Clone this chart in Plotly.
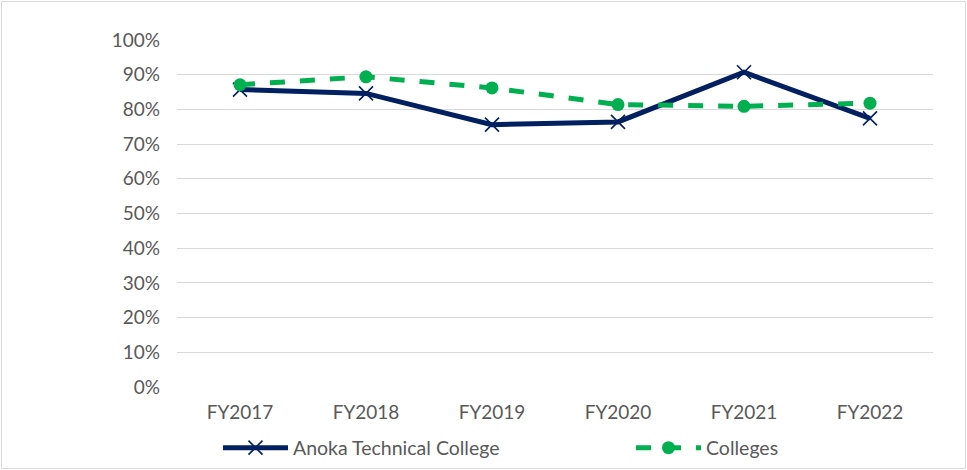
import plotly.graph_objects as go

years = ["FY2017", "FY2018", "FY2019", "FY2020", "FY2021", "FY2022"]
anoka = [0.857, 0.846, 0.756, 0.764, 0.907, 0.774]
colleges = [0.871, 0.894, 0.862, 0.814, 0.809, 0.818]
y_ticks = [0, 0.1, 0.2, 0.3, 0.4, 0.5, 0.6, 0.7, 0.8, 0.9, 1.0]

W, H = 967, 470
L, R, T, B = 177, 34, 40, 83
pw, ph = W - L - R, H - T - B

fig = go.Figure()
fig.add_trace(go.Scatter(
    x=years, y=anoka, name="Anoka Technical College", mode="lines+markers",
    line=dict(color="#002060", width=5),
    marker=dict(symbol="x-thin", size=14, line=dict(color="#002060", width=1.6), color="#002060"),
    legend="legend",
))
fig.add_trace(go.Scatter(
    x=years, y=colleges, name="Colleges", mode="lines+markers",
    line=dict(color="#00B050", width=5, dash="dash"),
    marker=dict(symbol="circle", size=13, color="#00B050"),
    legend="legend2",
))

leg_common = dict(orientation="h", xref="container", yref="container",
                  xanchor="left", y=1 - 448 / H, yanchor="middle",
                  itemwidth=65, font=dict(size=19.5, color="#595959"),
                  bgcolor="rgba(0,0,0,0)")

fig.update_layout(
    width=W, height=H,
    margin=dict(l=L, r=R, t=T, b=B, autoexpand=False),
    paper_bgcolor="white", plot_bgcolor="white",
    font=dict(family="Lato, Open Sans, sans-serif", size=19, color="#595959"),
    xaxis=dict(showgrid=False, showline=False, ticks="", zeroline=False,
               ticklabelstandoff=12,
               tickfont=dict(size=19, color="#595959")),
    yaxis=dict(range=[0, 1.0], tickvals=y_ticks, tickformat=".0%",
               showgrid=True, gridcolor="#d9d9d9", gridwidth=1.2,
               zeroline=False, showline=False, ticks="", ticklen=0,
               ticklabelstandoff=16,
               tickfont=dict(size=19, color="#595959")),
    legend=dict(leg_common, x=218 / W),
    legend2=dict(leg_common, x=631 / W),
    showlegend=True,
    shapes=[dict(type="rect", xref="paper", yref="paper",
                 x0=-(L - 1.5) / pw, x1=1 + (R - 1.5) / pw,
                 y0=-(B - 1.5) / ph, y1=1 + (T - 1.5) / ph,
                 line=dict(color="#d9d9d9", width=1))],
)
fig.update_xaxes(range=[-0.5, 5.5])

fig.write_html("out.html", config={"displayModeBar": False},
               post_script="document.body.style.margin='0';document.body.style.overflow='hidden';")
